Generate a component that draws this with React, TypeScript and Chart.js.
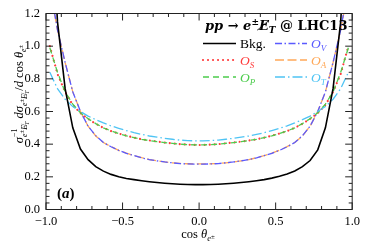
import React, { useEffect, useRef } from 'react';
import { Chart, registerables } from 'chart.js';
Chart.register(...registerables);

const SERIF = '"Liberation Serif", "DejaVu Serif", serif';
const WIDE_SERIF = '"DejaVu Serif", "Liberation Serif", serif';

const COS_BINS = [
  -0.975, -0.925, -0.875, -0.825, -0.775, -0.725, -0.675, -0.625, -0.575, -0.525,
  -0.475, -0.425, -0.375, -0.325, -0.275, -0.225, -0.175, -0.125, -0.075, -0.025,
  0.025, 0.075, 0.125, 0.175, 0.225, 0.275, 0.325, 0.375, 0.425, 0.475,
  0.525, 0.575, 0.625, 0.675, 0.725, 0.775, 0.825, 0.875, 0.925, 0.975,
];

const BKG = [
  2.0, 1.15, 0.74, 0.5, 0.37, 0.305, 0.262, 0.235, 0.215, 0.2,
  0.19, 0.183, 0.176, 0.17, 0.165, 0.161, 0.158, 0.155, 0.153, 0.152,
  0.152, 0.153, 0.155, 0.158, 0.161, 0.165, 0.17, 0.176, 0.183, 0.192,
  0.203, 0.217, 0.236, 0.262, 0.3, 0.365, 0.5, 0.74, 1.15, 2.0,
];
const O_S = [
  1.0, 0.83, 0.72, 0.64, 0.59, 0.555, 0.525, 0.5, 0.48, 0.465,
  0.452, 0.44, 0.43, 0.423, 0.416, 0.41, 0.405, 0.4, 0.397, 0.395,
  0.395, 0.397, 0.4, 0.405, 0.41, 0.416, 0.423, 0.43, 0.44, 0.452,
  0.465, 0.48, 0.5, 0.525, 0.555, 0.59, 0.64, 0.72, 0.83, 1.0,
];
const O_P = [
  0.99, 0.84, 0.72, 0.645, 0.592, 0.556, 0.526, 0.5, 0.481, 0.465,
  0.451, 0.44, 0.43, 0.422, 0.415, 0.41, 0.405, 0.4, 0.397, 0.396,
  0.396, 0.397, 0.4, 0.405, 0.41, 0.415, 0.422, 0.43, 0.44, 0.451,
  0.465, 0.481, 0.5, 0.526, 0.556, 0.592, 0.645, 0.72, 0.84, 0.99,
];
const O_V = [
  1.37, 1.1, 0.9, 0.72, 0.6, 0.51, 0.452, 0.41, 0.384, 0.362,
  0.344, 0.33, 0.316, 0.306, 0.298, 0.291, 0.286, 0.281, 0.279, 0.278,
  0.278, 0.279, 0.281, 0.286, 0.291, 0.298, 0.306, 0.316, 0.33, 0.344,
  0.362, 0.384, 0.41, 0.452, 0.51, 0.6, 0.72, 0.9, 1.1, 1.37,
];
const O_A = [
  1.35, 1.1, 0.9, 0.72, 0.6, 0.51, 0.45, 0.41, 0.385, 0.362,
  0.345, 0.33, 0.317, 0.306, 0.298, 0.291, 0.286, 0.282, 0.28, 0.279,
  0.279, 0.28, 0.282, 0.286, 0.291, 0.298, 0.306, 0.317, 0.33, 0.345,
  0.362, 0.385, 0.41, 0.45, 0.51, 0.6, 0.72, 0.9, 1.1, 1.35,
];
const O_T = [
  0.84, 0.74, 0.675, 0.63, 0.6, 0.572, 0.55, 0.53, 0.512, 0.497,
  0.483, 0.47, 0.46, 0.45, 0.443, 0.436, 0.43, 0.425, 0.422, 0.42,
  0.42, 0.422, 0.425, 0.43, 0.436, 0.443, 0.45, 0.46, 0.47, 0.483,
  0.497, 0.512, 0.53, 0.55, 0.572, 0.6, 0.63, 0.675, 0.74, 0.84,
];

const X_MAJOR = [-1.0, -0.5, 0.0, 0.5, 1.0];
const X_MINOR = [-0.9, -0.8, -0.7, -0.6, -0.4, -0.3, -0.2, -0.1, 0.1, 0.2, 0.3, 0.4, 0.6, 0.7, 0.8, 0.9];
const Y_MAJOR = [0.0, 0.2, 0.4, 0.6, 0.8, 1.0, 1.2];
const Y_MINOR = [
  0.04, 0.08, 0.12, 0.16, 0.24, 0.28, 0.32, 0.36, 0.44, 0.48, 0.52, 0.56,
  0.64, 0.68, 0.72, 0.76, 0.84, 0.88, 0.92, 0.96, 1.04, 1.08, 1.12, 1.16,
];

const COLORS = {
  bkg: '#000000',
  s: '#ff3b3b',
  p: '#4ccc4c',
  v: '#5a5aff',
  a: '#ffa858',
  t: '#4fc4f4',
};

type Seg = { t: string; size: number; style?: string; dy?: number; color?: string; adv?: boolean; fam?: string };

function segFont(s: Seg) {
  return `${s.style ?? ''} ${s.size}px ${s.fam ?? SERIF}`;
}
function richWidth(ctx: CanvasRenderingContext2D, segs: Seg[]) {
  let w = 0;
  for (const s of segs) {
    ctx.font = segFont(s);
    if (s.adv !== false) w += ctx.measureText(s.t).width;
  }
  return w;
}
function drawRich(ctx: CanvasRenderingContext2D, segs: Seg[], x: number, y: number, align: 'left' | 'center' | 'right', color = '#000') {
  const w = richWidth(ctx, segs);
  let cx = align === 'left' ? x : align === 'center' ? x - w / 2 : x - w;
  ctx.textAlign = 'left';
  ctx.textBaseline = 'alphabetic';
  for (const s of segs) {
    ctx.font = segFont(s);
    ctx.fillStyle = s.color ?? color;
    ctx.fillText(s.t, cx, y + (s.dy ?? 0));
    if (s.adv !== false) cx += ctx.measureText(s.t).width;
  }
}

function fmt(v: number) {
  const s = Math.abs(v).toFixed(1);
  return v < -1e-9 ? '\u2212' + s : s;
}

const decorPlugin = {
  id: 'decor',
  afterDraw(chart: any) {
    const ctx: CanvasRenderingContext2D = chart.ctx;
    const { left, right, top, bottom } = chart.chartArea;
    const xs = chart.scales.x;
    const ys = chart.scales.y;
    ctx.save();
    ctx.strokeStyle = '#222';
    ctx.lineWidth = 1;
    ctx.setLineDash([]);
    ctx.strokeRect(left, top, right - left, bottom - top);
    const tick = (x1: number, y1: number, x2: number, y2: number) => {
      ctx.beginPath();
      ctx.moveTo(x1, y1);
      ctx.lineTo(x2, y2);
      ctx.stroke();
    };
    for (const v of X_MAJOR) {
      const px = xs.getPixelForValue(v);
      tick(px, bottom, px, bottom - 7);
      tick(px, top, px, top + 7);
    }
    for (const v of X_MINOR) {
      const px = xs.getPixelForValue(v);
      tick(px, bottom, px, bottom - 3.5);
      tick(px, top, px, top + 3.5);
    }
    for (const v of Y_MAJOR) {
      const py = ys.getPixelForValue(v);
      tick(left, py, left + 7, py);
      tick(right, py, right - 7, py);
    }
    for (const v of Y_MINOR) {
      const py = ys.getPixelForValue(v);
      tick(left, py, left + 3.5, py);
      tick(right, py, right - 3.5, py);
    }

    // x-axis title
    drawRich(ctx, [
      { t: 'cos ', size: 12.5 },
      { t: '\u03b8', size: 12.5, style: 'italic' },
      { t: 'e', size: 8.5, style: 'italic', dy: 3 },
      { t: '\u00b1', size: 7, dy: 0.5 },
    ], 198, 238, 'center');

    // y-axis title (rotated)
    const sub: Seg[] = [
      { t: 'e', size: 8, style: 'italic', dy: 4 },
      { t: '\u00b1', size: 6.5, dy: 1 },
      { t: 'E\u0338', size: 8, style: 'italic', dy: 4 },
      { t: 'T', size: 6, style: 'italic', dy: 5.5 },
    ];
    ctx.save();
    ctx.translate(23, 94);
    ctx.rotate(-Math.PI / 2);
    drawRich(ctx, [
      { t: '\u03c3', size: 12.5, style: 'italic' },
      { t: '\u22121', size: 8, dy: -6, adv: false },
      ...sub,
      { t: ' d\u03c3', size: 12.5, style: 'italic' },
      ...sub,
      { t: '/', size: 12.5 },
      { t: 'd', size: 12.5, style: 'italic' },
      { t: ' cos ', size: 12.5 },
      { t: '\u03b8', size: 12.5, style: 'italic' },
      { t: 'e', size: 8, style: 'italic', dy: 3 },
      { t: '\u00b1', size: 6.5, dy: 0 },
    ], 0, 0, 'center');
    ctx.restore();

    // legend title
    drawRich(ctx, [
      { t: 'pp', size: 13, style: 'italic bold', fam: WIDE_SERIF },
      { t: ' \u2192 ', size: 13, style: 'bold', fam: WIDE_SERIF },
      { t: 'e', size: 13, style: 'italic bold', fam: WIDE_SERIF },
      { t: '\u00b1', size: 9, style: 'bold', dy: -5, fam: WIDE_SERIF },
      { t: 'E\u0338', size: 13, style: 'italic bold', fam: WIDE_SERIF },
      { t: 'T', size: 9, style: 'italic bold', dy: 3, fam: WIDE_SERIF },
      { t: ' @ LHC13', size: 13, style: 'bold', fam: WIDE_SERIF },
    ], 205, 30, 'left');

    // legend entries
    const entry = (x1: number, x2: number, y: number, color: string, dash: number[], width: number, cap: CanvasLineCap, segs: Seg[]) => {
      ctx.save();
      ctx.strokeStyle = color;
      ctx.lineWidth = width;
      ctx.lineCap = cap;
      ctx.setLineDash(dash);
      ctx.beginPath();
      ctx.moveTo(x1, y);
      ctx.lineTo(x2, y);
      ctx.stroke();
      ctx.restore();
      drawRich(ctx, segs, x2 + 4, y + 4.5, 'left', color);
    };
    const oLabel = (s: string): Seg[] => [
      { t: 'O', size: 13.5, style: 'italic' },
      { t: s, size: 9, style: 'italic', dy: 3 },
    ];
    entry(203, 236, 43.5, COLORS.bkg, [], 1.6, 'butt', [{ t: 'Bkg.', size: 13.5 }]);
    entry(275, 307, 43.5, COLORS.v, [7, 2.5, 1.5, 2.5], 1.3, 'butt', oLabel('V'));
    entry(203, 236, 60, COLORS.s, [0.01, 5], 2.2, 'round', oLabel('S'));
    entry(275, 307, 60, COLORS.a, [9, 3.5], 1.3, 'butt', oLabel('A'));
    entry(203, 236, 77, COLORS.p, [6, 4], 1.3, 'butt', oLabel('P'));
    entry(275, 307, 77, COLORS.t, [10, 3, 1.5, 3], 1.3, 'butt', oLabel('T'));

    // panel label
    drawRich(ctx, [
      { t: '(', size: 15, style: 'bold' },
      { t: 'a', size: 15, style: 'italic bold' },
      { t: ')', size: 15, style: 'bold' },
    ], 57, 198, 'left');
    ctx.restore();
  },
};

export default function App() {
  const ref = useRef<HTMLCanvasElement | null>(null);
  useEffect(() => {
    if (!ref.current) return;
    const mk = (label: string, ys: number[], color: string, dash: number[], width: number, cap: CanvasLineCap) => ({
      label,
      data: COS_BINS.map((x, i) => ({ x, y: ys[i] })),
      borderColor: color,
      backgroundColor: color,
      borderWidth: width,
      borderDash: dash,
      borderCapStyle: cap,
      pointRadius: 0,
      fill: false,
      tension: 0,
    });
    const chart = new Chart(ref.current, {
      type: 'line',
      data: {
        datasets: [
          mk('Bkg.', BKG, COLORS.bkg, [], 1.6, 'butt'),
          mk('O_T', O_T, COLORS.t, [10, 3, 1.5, 3], 1.3, 'butt'),
          mk('O_P', O_P, COLORS.p, [6, 4], 1.3, 'butt'),
          mk('O_S', O_S, COLORS.s, [0.01, 5], 2.2, 'round'),
          mk('O_V', O_V, COLORS.v, [7, 2.5, 1.5, 2.5], 1.3, 'butt'),
          mk('O_A', O_A, COLORS.a, [9, 3.5], 1.3, 'butt'),
        ],
      },
      options: {
        animation: false,
        responsive: true,
        maintainAspectRatio: false,
        layout: { padding: { top: 8, right: 11, left: 0, bottom: 0 } },
        plugins: { legend: { display: false }, tooltip: { enabled: false } },
        scales: {
          x: {
            type: 'linear',
            min: -1,
            max: 1,
            grid: { display: false, drawTicks: false },
            border: { display: false },
            ticks: {
              stepSize: 0.5,
              autoSkip: false,
              maxRotation: 0,
              padding: 5,
              color: '#000',
              font: { family: SERIF, size: 12.5 },
              callback: (v: any) => fmt(Number(v)),
            },
            afterFit: (s: any) => { s.height = 34.5; },
          },
          y: {
            type: 'linear',
            min: 0,
            max: 1.2,
            grid: { display: false, drawTicks: false },
            border: { display: false },
            ticks: {
              stepSize: 0.2,
              autoSkip: false,
              padding: 6,
              color: '#000',
              font: { family: SERIF, size: 12.5 },
              callback: (v: any) => fmt(Number(v)),
            },
            afterFit: (s: any) => { s.width = 46; },
          },
        },
      },
      plugins: [decorPlugin],
    } as any);
    return () => chart.destroy();
  }, []);
  return (
    <div style={{ position: 'fixed', left: 0, top: 0, width: 365, height: 244, background: '#fff' }}>
      <canvas ref={ref} />
    </div>
  );
}
